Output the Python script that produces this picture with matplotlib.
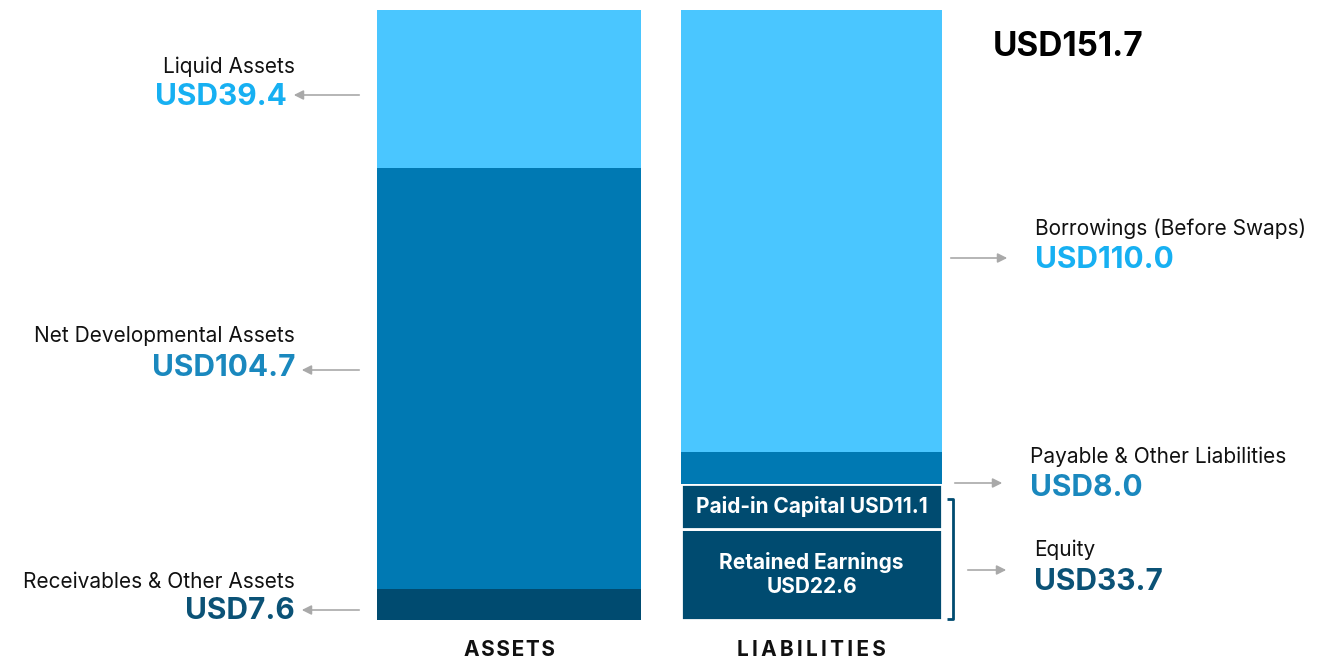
import matplotlib
matplotlib.use("Agg")
import matplotlib.pyplot as plt

plt.rcParams['font.family'] = ['Inter', 'DejaVu Sans']

# data (USD billions)
asset_names = ["Receivables & Other Assets", "Net Developmental Assets", "Liquid Assets"]
asset_vals = [7.6, 104.7, 39.4]
liab_names = ["Retained Earnings", "Paid-in Capital", "Payable & Other Liabilities", "Borrowings (Before Swaps)"]
liab_vals = [22.6, 11.1, 8.0, 110.0]
equity_total = 33.7
total = 151.7
col_labels = ["ASSETS", "LIABILITIES"]

c_light = "#4AC6FF"
c_mid = "#0079B3"
c_dark = "#004B70"
t_light = "#17B0F2"
t_mid = "#1A88BE"
t_dark = "#0B5276"
grey = "#A9A9A9"

W, H = 1343, 662
base = 620          # pixel row of value 0
scale = 4.021       # pixels per unit

fig = plt.figure(figsize=(W / 100, H / 100), dpi=100)
ax = fig.add_axes([0, 0, 1, 1])
ax.set_xlim(0, W)
ax.set_ylim(-(H - base) / scale, base / scale)
ax.axis("off")


def Y(py):
    return (base - py) / scale


xa, wa = 509, 264
xl, wl = 811.5, 261

# assets bar
bot = 0
for v, c in zip(asset_vals, [c_dark, c_mid, c_light]):
    ax.bar(xa, v, wa, bottom=bot, color=c, linewidth=0)
    bot += v

# liabilities bar
bot = 0
for i, (v, c) in enumerate(zip(liab_vals, [c_dark, c_dark, c_mid, c_light])):
    if i < 2:
        ax.bar(xl, v, wl, bottom=bot, color=c, edgecolor="white", linewidth=2)
    else:
        ax.bar(xl, v, wl, bottom=bot, color=c, linewidth=0)
    bot += v

# inside labels
ax.text(xl, liab_vals[0] + liab_vals[1] / 2, "%s USD%.1f" % (liab_names[1], liab_vals[1]),
        ha="center", va="center", color="white", fontsize=15, fontweight="bold")
ax.text(xl, liab_vals[0] / 2, "%s\nUSD%.1f" % (liab_names[0], liab_vals[0]),
        ha="center", va="center", color="white", fontsize=15, fontweight="bold",
        linespacing=1.2)

# bracket for equity
bx = 953
ax.plot([bx - 6, bx, bx, bx - 6], [Y(499), Y(499), Y(619), Y(619)],
        color=c_dark, lw=2, solid_capstyle="butt")

arrow = dict(arrowstyle="-|>", color=grey, lw=1.2, mutation_scale=14)


def left_label(name, val, col, py_name, py_val, py_arrow, xr=295, xv=295):
    ax.text(xr, Y(py_name), name, ha="right", va="center", fontsize=15, color="#111111")
    ax.text(xv, Y(py_val), "USD%.1f" % val, ha="right", va="center", fontsize=21.5,
            fontweight="bold", color=col)
    ax.annotate("", xy=(xv + 4, Y(py_arrow)), xytext=(362, Y(py_arrow)), arrowprops=arrow)


def right_label(name, val, col, xl_txt, py_name, py_val, py_arrow, x0):
    ax.text(xl_txt, Y(py_name), name, ha="left", va="center", fontsize=15, color="#111111")
    ax.text(xl_txt, Y(py_val), "USD%.1f" % val, ha="left", va="center", fontsize=21.5,
            fontweight="bold", color=col)
    ax.annotate("", xy=(xl_txt - 25, Y(py_arrow)), xytext=(x0, Y(py_arrow)), arrowprops=arrow)


left_label(asset_names[2], asset_vals[2], t_light, 67, 97, 95, xv=287)
left_label(asset_names[1], asset_vals[1], t_mid, 336, 368, 370)
left_label(asset_names[0], asset_vals[0], t_dark, 582, 611, 610)

right_label(liab_names[3], liab_vals[3], t_light, 1035, 229, 260, 258, 948)
right_label(liab_names[2], liab_vals[2], t_mid, 1030, 457, 488, 483, 952)
right_label("Equity", equity_total, t_dark, 1034, 550, 582, 570, 965)

ax.text(993, Y(47), "USD%.1f" % total, ha="left", va="center", fontsize=24,
        fontweight="bold", color="#000000")

ax.text(xa, Y(650), "\u200a".join(col_labels[0]), ha="center", va="center", fontsize=15,
        fontweight="bold", color="#111111")
ax.text(xl, Y(650), "\u2009".join(col_labels[1]), ha="center", va="center", fontsize=15,
        fontweight="bold", color="#111111")

fig.savefig("out.png", dpi=100, facecolor="white")
